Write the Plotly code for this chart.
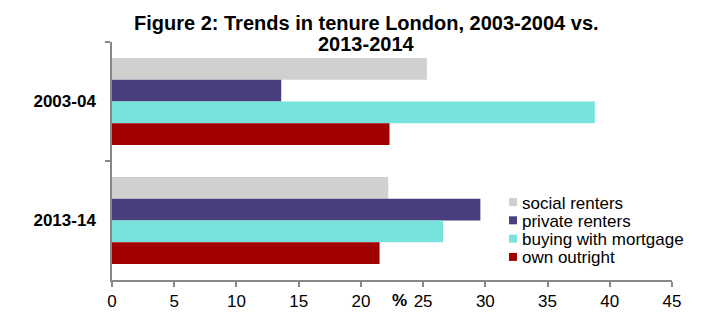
import plotly.graph_objects as go

categories = ["2003-04", "2013-14"]
series_names = ["social renters", "private renters", "buying with mortgage", "own outright"]
social_renters = [25.3, 22.2]
private_renters = [13.6, 29.6]
buying_mortgage = [38.8, 26.6]
own_outright = [22.3, 21.5]
x_ticks = [0, 5, 10, 15, 20, 25, 30, 35, 40, 45]

values = [social_renters, private_renters, buying_mortgage, own_outright]
colors = ["#D0D0D0", "#483F7C", "#77E3DD", "#A00000"]

FONT = "Liberation Sans, Arial, sans-serif"

# plot area in pixels (for converting layout positions)
L, R, T, B = 112, 672, 42, 280
def px_x(x):
    return (x - L) / (R - L)
def px_y(y):
    return (B - y) / (B - T)

fig = go.Figure()
for name, vals, col in zip(series_names, values, colors):
    fig.add_trace(go.Bar(
        y=categories, x=vals, name=name, orientation="h",
        marker=dict(color=col, line=dict(width=0)),
        showlegend=False,
    ))

fig.update_layout(
    width=710, height=322,
    margin=dict(l=L, r=710 - R, t=T, b=322 - B),
    paper_bgcolor="white", plot_bgcolor="white",
    barmode="group", bargap=0.27, bargroupgap=0,
    font=dict(family=FONT, size=17, color="black"),
    showlegend=False,
    xaxis=dict(
        range=[0, 45], tickvals=x_ticks, ticktext=[str(v) for v in x_ticks],
        showgrid=False, zeroline=False, automargin=False,
        showline=True, linecolor="#888888", linewidth=1.5,
        ticks="outside", ticklen=5, tickcolor="#888888", tickwidth=1.5,
        tickfont=dict(family=FONT, size=17, color="black"),
    ),
    yaxis=dict(
        type="category",
        categoryorder="array", categoryarray=categories,
        autorange="reversed", automargin=False,
        showgrid=False, zeroline=False,
        showline=True, linecolor="#888888", linewidth=1.5,
        ticks="outside", ticklen=5, tickcolor="#888888", tickwidth=1.5,
        tickson="boundaries",
        tickfont=dict(family=FONT, size=17, color="black", weight="bold"),
        ticklabelstandoff=11,
    ),
)

# title (two lines)
title_lines = ["Figure 2: Trends in tenure London, 2003-2004 vs.", "2013-2014"]
for line, ypx in zip(title_lines, [23, 44]):
    fig.add_annotation(
        text="<b>%s</b>" % line, xref="paper", yref="paper",
        x=px_x(366), y=px_y(ypx), xanchor="center", yanchor="middle",
        showarrow=False, font=dict(family=FONT, size=20, color="black"),
    )

# axis unit label
fig.add_annotation(
    text="<b>%</b>", xref="paper", yref="paper",
    x=px_x(399), y=px_y(300), xanchor="center", yanchor="middle",
    showarrow=False, font=dict(family=FONT, size=17, color="black"),
)

# legend
for i, (name, col) in enumerate(zip(series_names, colors)):
    cy = 202 + 18.3 * i
    fig.add_shape(
        type="rect", xref="paper", yref="paper",
        x0=px_x(509), x1=px_x(517), y0=px_y(cy + 4), y1=px_y(cy - 4),
        fillcolor=col, line=dict(width=0),
    )
    fig.add_annotation(
        text=name, xref="paper", yref="paper",
        x=px_x(520), y=px_y(cy + 1), xanchor="left", yanchor="middle",
        showarrow=False, font=dict(family=FONT, size=17, color="black"),
    )

fig.write_html("out.html")
